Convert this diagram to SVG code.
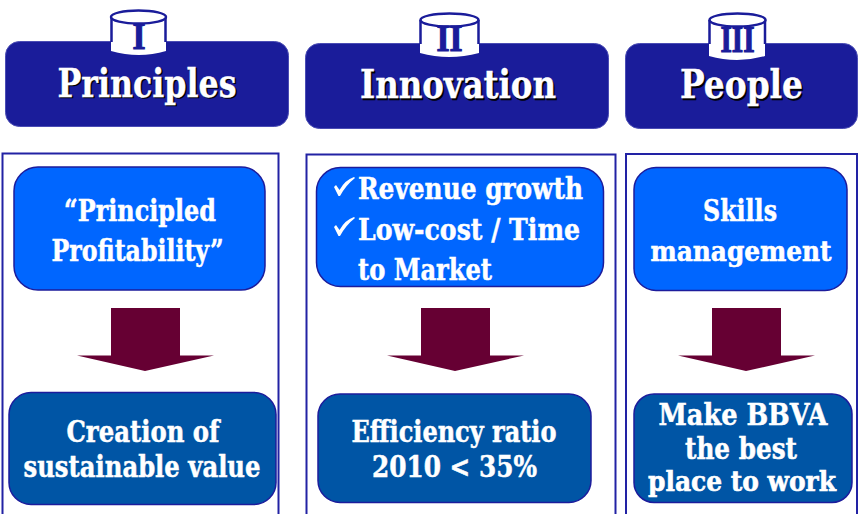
<svg xmlns="http://www.w3.org/2000/svg" width="859" height="514" viewBox="0 0 859 514">
<style>
text{font-family:"DejaVu Serif","Liberation Serif",serif;font-weight:bold;fill:#fff;text-anchor:middle}
.hd{fill:#1a1c9a;stroke:#4a4cb4;stroke-width:1}
.panel{fill:#fff;stroke:#2222a4;stroke-width:2}
.top{fill:#0066ff;stroke:#1c1c9c;stroke-width:1.500}
.bot{fill:#0055a5;stroke:#1c1c9c;stroke-width:1.500}
.arr{fill:#660033}
.can{fill:#fff;stroke:none}
.rim{fill:#fff;stroke:#1a1c9a;stroke-width:2.500}
.side{fill:none;stroke:#1a1c9a;stroke-width:2.500}
.num{fill:#1a1c9a;stroke:#1a1c9a;stroke-width:1.200;font-family:"Liberation Serif",serif;font-size:38px}
.title{font-size:40px;stroke:#fff;stroke-width:.4}
.shadow{fill:#000;stroke:#000}
.t{font-size:29px;stroke:#fff;stroke-width:.5}
.l{text-anchor:start;font-size:29px;stroke:#fff;stroke-width:.5}
.s{font-size:28px;stroke-width:.6}
.chk{fill:#fff;stroke:none}
</style>
<rect width="859" height="514" fill="#fff"/>
<g id="principles-header">
<rect class="hd" x="5.500" y="41.500" width="283" height="85" rx="14"/>
<path class="can" d="M111 17V51Q139 59 166 51V17Z"/>
<path class="side" d="M111.500 17V42M165.500 17V42"/>
<ellipse class="rim" cx="138.500" cy="17" rx="27.500" ry="6.500"/>
<text class="num" x="139" y="49" textLength="13" lengthAdjust="spacingAndGlyphs">I</text>
<text class="title shadow" x="148.500" y="98" textLength="179" lengthAdjust="spacingAndGlyphs">Principles</text>
<text class="title" x="147" y="96.500" textLength="179" lengthAdjust="spacingAndGlyphs">Principles</text>
</g>
<g id="innovation-header">
<rect class="hd" x="305.500" y="43.500" width="303" height="85" rx="14"/>
<path class="can" d="M420 20V53Q449 61 479 53V20Z"/>
<path class="side" d="M420.500 20V44M478.500 20V44"/>
<ellipse class="rim" cx="449.500" cy="20" rx="29" ry="6.500"/>
<text class="num" x="449.500" y="51" textLength="26" lengthAdjust="spacingAndGlyphs">II</text>
<text class="title shadow" x="459.500" y="99.500" textLength="196" lengthAdjust="spacingAndGlyphs">Innovation</text>
<text class="title" x="458" y="98" textLength="196" lengthAdjust="spacingAndGlyphs">Innovation</text>
</g>
<g id="people-header">
<rect class="hd" x="625.500" y="43.500" width="232" height="85" rx="14"/>
<path class="can" d="M709 20V56Q737 64 765 56V20Z"/>
<path class="side" d="M709.500 20V44M765 20V44"/>
<ellipse class="rim" cx="737.500" cy="20" rx="28" ry="6.500"/>
<text class="num" x="737.500" y="52" textLength="34" lengthAdjust="spacingAndGlyphs">III</text>
<text class="title shadow" x="743" y="99.500" textLength="123" lengthAdjust="spacingAndGlyphs">People</text>
<text class="title" x="741.500" y="98" textLength="123" lengthAdjust="spacingAndGlyphs">People</text>
</g>
<g id="principles-column">
<rect class="panel" x="2.500" y="153.500" width="276" height="362"/>
<rect class="top" x="14" y="167" width="251" height="123" rx="24"/>
<text class="t" x="140" y="221" textLength="152" lengthAdjust="spacingAndGlyphs">“Principled</text>
<text class="t" x="137.500" y="261" textLength="172" lengthAdjust="spacingAndGlyphs">Profitability”</text>
<path class="arr" d="M111 308H180V355.500H214L145 371L77 355.500H111Z"/>
<rect class="bot" x="9" y="392.500" width="267" height="112" rx="22"/>
<text class="t" x="143" y="442" textLength="153" lengthAdjust="spacingAndGlyphs">Creation of</text>
<text class="t" x="142" y="477" textLength="237" lengthAdjust="spacingAndGlyphs">sustainable value</text>
</g>
<g id="innovation-column">
<rect class="panel" x="306.500" y="154.500" width="309" height="361"/>
<rect class="top" x="316.500" y="167.500" width="287" height="119" rx="24"/>
<path class="chk" d="M334 187L336 185L339.500 190Q345 180 354 177L355 178Q346 185 340 196H338.500Z"/>
<text class="l" x="358" y="199" textLength="225" lengthAdjust="spacingAndGlyphs">Revenue growth</text>
<path class="chk" d="M334 227L336 225L339.500 230Q345 220 354 217L355 218Q346 225 340 236H338.500Z"/>
<text class="l" x="358" y="240" textLength="222" lengthAdjust="spacingAndGlyphs">Low-cost / Time</text>
<text class="l" x="358" y="280" textLength="134" lengthAdjust="spacingAndGlyphs">to Market</text>
<path class="arr" d="M421 308H490V355.500H524L455 371L387 355.500H421Z"/>
<rect class="bot" x="318" y="394" width="273" height="108.500" rx="22"/>
<text class="t" x="454" y="442" textLength="205" lengthAdjust="spacingAndGlyphs">Efficiency ratio</text>
<text class="t" x="454.500" y="477" textLength="165" lengthAdjust="spacingAndGlyphs">2010 &lt; 35%</text>
</g>
<g id="people-column">
<rect class="panel" x="626" y="154" width="231" height="361"/>
<rect class="top" x="634" y="167.500" width="213" height="123" rx="22"/>
<text class="t" x="740" y="221" textLength="74" lengthAdjust="spacingAndGlyphs">Skills</text>
<text class="t s" x="741" y="261" textLength="181" lengthAdjust="spacingAndGlyphs">management</text>
<path class="arr" d="M712 308H781V355.500H815L746 371L678 355.500H712Z"/>
<rect class="bot" x="634" y="394" width="218" height="108.500" rx="20"/>
<text class="t" x="743" y="425" textLength="169" lengthAdjust="spacingAndGlyphs">Make BBVA</text>
<text class="t" x="741" y="459" textLength="112" lengthAdjust="spacingAndGlyphs">the best</text>
<text class="t s" x="742" y="491" textLength="188" lengthAdjust="spacingAndGlyphs">place to work</text>
</g>
</svg>
